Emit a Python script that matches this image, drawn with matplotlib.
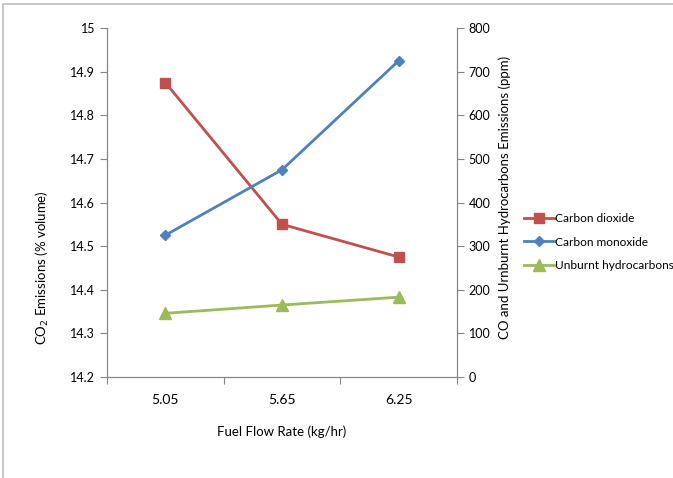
import numpy as np
import matplotlib.pyplot as plt
from matplotlib.patches import Rectangle

plt.rcParams['font.family'] = ['Lato', 'DejaVu Sans']

flow_rates = ["5.05", "5.65", "6.25"]
co2_volume = [14.875, 14.55, 14.475]
co_ppm = [325, 475, 725]
uhc_ppm = [146, 165, 183]

red = '#C0504D'
blue = '#4F81BD'
green = '#9BBB59'
grey = '#868686'

W, H = 673, 478
fig = plt.figure(figsize=(W / 100, H / 100), dpi=100)
fig.add_artist(Rectangle((3 / W, -0.1), 1.2, 1 - 4 / H + 0.1, transform=fig.transFigure,
                         fill=False, edgecolor='#BFBFBF', linewidth=1.2))

ax = fig.add_axes([107 / W, 1 - 377 / H, 350 / W, 349 / H])
ax2 = ax.twinx()

x = np.arange(len(flow_rates))

l1, = ax.plot(x, co2_volume, color=red, marker='s', markersize=7.5, linewidth=2,
              label='Carbon dioxide')
l2, = ax2.plot(x, co_ppm, color=blue, marker='D', markersize=5.5, linewidth=2,
               label='Carbon monoxide')
l3, = ax2.plot(x, uhc_ppm, color=green, marker='^', markersize=8, linewidth=2,
               label='Unburnt hydrocarbons')

ax.set_xlim(-0.5, 2.5)
ax.set_ylim(14.2, 15)
ax.set_yticks(np.arange(14.2, 15.01, 0.1))
ax.set_yticklabels(['14.2', '14.3', '14.4', '14.5', '14.6', '14.7', '14.8', '14.9', '15'])
ax2.set_ylim(0, 800)
ax2.set_yticks(range(0, 801, 100))

ax.set_xticks([-0.5, 0.5, 1.5, 2.5])
ax.set_xticklabels([])
ax.set_xticks(x, minor=True)
ax.set_xticklabels(flow_rates, minor=True)
ax.tick_params(axis='x', which='minor', length=0, pad=12)
ax.tick_params(axis='x', which='major', length=5, color=grey)

for a in (ax, ax2):
    a.tick_params(axis='y', length=5, color=grey, labelsize=9)
    a.tick_params(axis='x', labelsize=9)
    a.spines['top'].set_visible(False)
    for s in ('left', 'right', 'bottom'):
        a.spines[s].set_color(grey)

fig.text(282 / W, 1 - 432 / H, 'Fuel Flow Rate (kg/hr)', ha='center', va='center', fontsize=9.5)
fig.text(42 / W, 1 - 268 / H, 'CO$_2$ Emissions (% volume)', rotation=90,
         ha='center', va='center', fontsize=9.5)
fig.text(505 / W, 1 - 197 / H, 'CO and Urnburnt Hydrocarbons Emissions (ppm)', rotation=90,
         ha='center', va='center', fontsize=9.5)

fig.legend(handles=[l1, l2, l3], loc='center left', bbox_to_anchor=(519 / W, 1 - 242 / H),
           frameon=False, fontsize=8.6, handlelength=2.5, handletextpad=0.15,
           labelspacing=1.05, borderaxespad=0)

fig.savefig('out.png', dpi=100)
